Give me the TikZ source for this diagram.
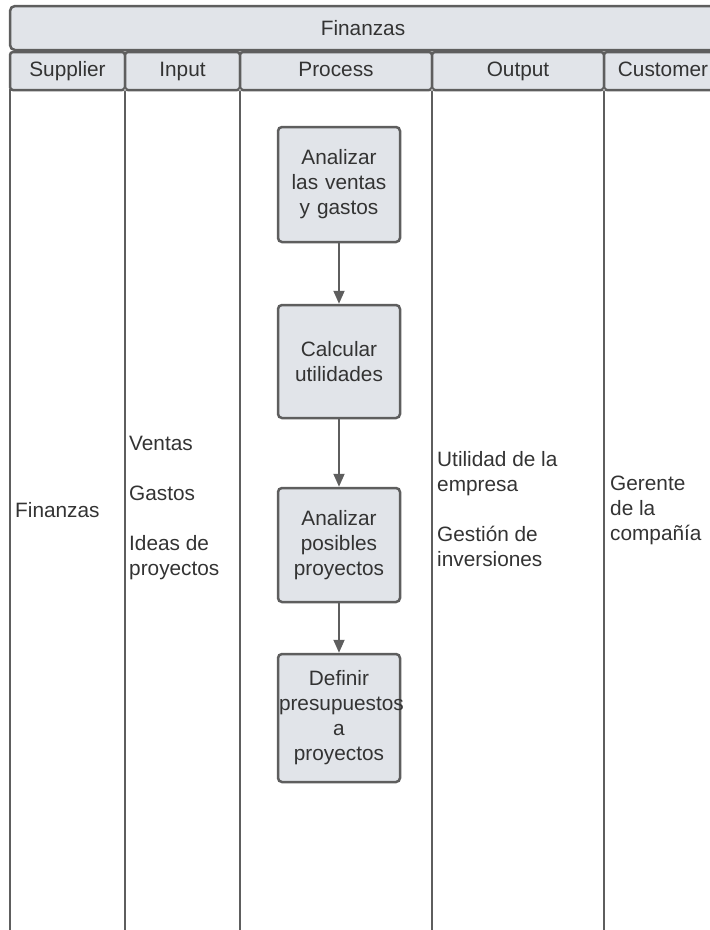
\documentclass[tikz,border=0pt]{standalone}
\usepackage{fontspec}
\setmainfont{Liberation Sans}
\usetikzlibrary{arrows.meta}

\definecolor{linegray}{HTML}{5E5E5E}
\definecolor{boxfill}{HTML}{E1E4E9}
\definecolor{txtgray}{HTML}{333333}

\begin{document}
\begin{tikzpicture}[
        x=1pt, y=-1pt,
        every node/.style={
            font=\fontsize{20.8}{25}\selectfont,
            text=txtgray
        },
        head/.style={draw=linegray, line width=2.5pt, fill=boxfill,
            rounded corners=5pt, minimum height=44pt},
        colhead/.style={draw=linegray, line width=2.5pt, fill=boxfill,
            rounded corners=3pt, minimum height=38pt,
            text height=15pt, text depth=4.5pt},
        lanebox/.style={draw=linegray, line width=2.5pt, minimum height=860pt},
        procbox/.style={draw=linegray, line width=2.5pt, fill=boxfill,
            rounded corners=4pt, text width=120pt, inner xsep=1pt, align=center},
        lanetext/.style={anchor=west, align=left, inner sep=0pt},
        line/.style={-{Triangle[width=11pt,length=13pt]}, draw=linegray, line width=1.8pt}
    ]

        \useasboundingbox (0,0) rectangle (710,930);
        \clip (0,0) rectangle (710,930);

        % drahy
        \node[lanebox, minimum width=115pt] (lsup) at (67.5,520) {};
        \node[lanebox, minimum width=115pt] (linp) at (182.5,520) {};
        \node[lanebox, minimum width=192pt] (lproc) at (336,520) {};
        \node[lanebox, minimum width=172pt] (lout) at (518,520) {};
        \node[lanebox, minimum width=118pt] (lcust) at (663,520) {};

        % zahlavi sloupcu
        \node[colhead, minimum width=115pt] (sup) at (67.5,71) {Supplier};
        \node[colhead, minimum width=115pt] (inp) at (182.5,71) {Input};
        \node[colhead, minimum width=192pt] (proc) at (336,71) {Process};
        \node[colhead, minimum width=172pt] (outp) at (518,71) {Output};
        \node[colhead, minimum width=118pt] (cust) at (663,71) {Customer};

        % hlavicka
        \node[head, minimum width=706pt] (fin) at (363,28) {Finanzas};

        \foreach \x in {125,240,432,604}
            \draw[linegray, line width=0.8pt, fill=white] (\x,90) circle (1.8pt);

        % texty v drahach
        \node[lanetext] (tsup) at (15,510) {Finanzas};
        \node[lanetext] (tinp) at (129,508) {Ventas\\[25pt]Gastos\\[25pt]Ideas de\\proyectos};
        \node[lanetext] (tout) at (437,509) {Utilidad de la\\empresa\\[25pt]Gesti\'on de\\inversiones};
        \node[lanetext] (tcust) at (610,510) {Gerente\\de la\\compa\~n\'ia};

        % proces
        \node[procbox, minimum height=115pt] (analizar) at (339,184.5) {Analizar\\las ventas\\y gastos};
        \node[procbox, minimum height=113pt] (calcular) at (339,361.5) {Calcular\\utilidades};
        \node[procbox, minimum height=114pt] (posibles) at (339,545) {Analizar\\posibles\\proyectos};
        \node[procbox, minimum height=128pt] (definir) at (339,718) {Definir\\presupuestos\\a\\proyectos};

        % spojnice
        \draw[line] (analizar) -- (calcular);
        \draw[line] (calcular) -- (posibles);
        \draw[line] (posibles) -- (definir);

    \end{tikzpicture}
\end{document}
